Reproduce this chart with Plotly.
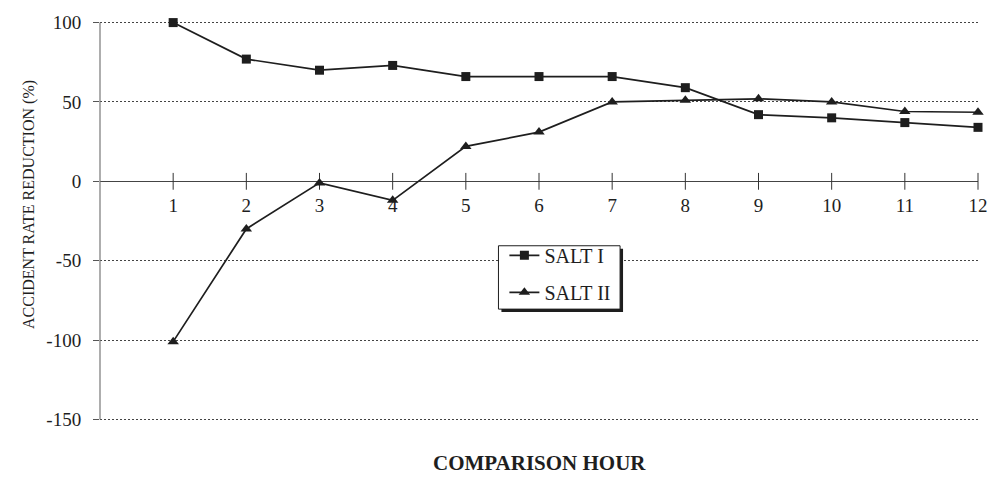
import plotly.graph_objects as go

# Comparison hours and accident-rate reduction (%) for the two salting programmes
hours = list(range(1, 13))
salt_i = [100, 77, 70, 73, 66, 66, 66, 59, 42, 40, 37, 34]
salt_ii = [-101, -30, -1, -12, 22, 31, 50, 51, 52, 50, 44, 43.5]
y_ticks = [-150, -100, -50, 0, 50, 100]
series_names = ["SALT I", "SALT II"]

W, H = 1000, 478
M_L, M_R, M_T, M_B = 100, 12, 17, 57
PW, PH = W - M_L - M_R, H - M_T - M_B
# a little headroom so the outer gridlines are not trimmed at the frame
Y_MIN, Y_MAX = -151, 101

SERIF = "Liberation Serif"
INK = "#1e1e1e"

# legend frame (pixels)
BOX_L, BOX_T, BOX_R, BOX_B = 503, 244, 626, 308
SHADOW = 3


def px_to_paper_x(px):
    return (px - M_L) / PW


def px_to_paper_y(py):
    return (H - M_B - py) / PH


fig = go.Figure()

# small tick crosses along the zero line at every hour
fig.add_trace(go.Scatter(
    x=hours, y=[0] * len(hours), mode="markers",
    marker=dict(symbol="line-ns", size=12, line=dict(width=1, color="#333")),
    showlegend=False, hoverinfo="skip", cliponaxis=False,
))

fig.add_trace(go.Scatter(
    x=hours, y=salt_i, name=series_names[0], mode="lines+markers",
    line=dict(color=INK, width=1.7),
    marker=dict(symbol="square", size=9, color=INK),
    legendgroup="a", cliponaxis=False,
))
fig.add_trace(go.Scatter(
    x=hours, y=salt_ii, name=series_names[1], mode="lines+markers",
    line=dict(color=INK, width=1.7),
    marker=dict(symbol="triangle-up", size=10, color=INK),
    legendgroup="b", cliponaxis=False,
))

zero_frac = (0 - Y_MIN) / (Y_MAX - Y_MIN)
y_lo_frac = (y_ticks[0] - Y_MIN) / (Y_MAX - Y_MIN)

fig.update_layout(
    width=W, height=H,
    margin=dict(l=M_L, r=M_R, t=M_T, b=M_B),
    paper_bgcolor="white", plot_bgcolor="white",
    font=dict(family=SERIF, color=INK, size=19),
    xaxis=dict(
        range=[0, 12], tickvals=hours, ticktext=[str(h) for h in hours],
        anchor="free", position=zero_frac,
        showline=False, showgrid=False, zeroline=False,
        ticks="", ticklabelstandoff=11,
        tickfont=dict(family=SERIF, size=19, color=INK),
    ),
    yaxis=dict(
        range=[Y_MIN, Y_MAX], tickvals=y_ticks, ticktext=[str(v) for v in y_ticks],
        showline=False,
        ticks="outside", ticklen=6, tickcolor="#555", tickwidth=1,
        showgrid=True, gridcolor="#444", gridwidth=1, griddash="2px,2px",
        zeroline=True, zerolinecolor="#444", zerolinewidth=1.4,
        ticklabelstandoff=8,
        tickfont=dict(family=SERIF, size=19, color=INK),
    ),
    legend=dict(
        x=px_to_paper_x(509), y=px_to_paper_y(234),
        xanchor="left", yanchor="top",
        bgcolor="rgba(0,0,0,0)", borderwidth=0,
        font=dict(family=SERIF, size=20, color=INK),
        traceorder="grouped", tracegroupgap=8,
        itemwidth=30,
    ),
    showlegend=True,
    annotations=[
        dict(
            text="ACCIDENT RATE REDUCTION (%)", textangle=-90,
            xref="paper", yref="paper",
            x=px_to_paper_x(28), y=px_to_paper_y(202),
            xanchor="center", yanchor="middle", showarrow=False,
            font=dict(family=SERIF, size=16, color=INK),
        ),
        dict(
            text="<b>COMPARISON HOUR</b>",
            xref="paper", yref="paper",
            x=0.5, y=px_to_paper_y(463),
            xanchor="center", yanchor="middle", showarrow=False,
            font=dict(family=SERIF, size=21, color=INK),
        ),
    ],
    shapes=[
        # vertical axis line, from the lowest to the highest tick
        dict(
            type="line", xref="paper", yref="y", layer="above",
            x0=0, x1=0, y0=y_ticks[0], y1=y_ticks[-1],
            line=dict(width=1.2, color="#777"),
        ),
        # drop shadow, then the white legend frame on top of it
        dict(
            type="rect", xref="paper", yref="paper", layer="above",
            x0=px_to_paper_x(BOX_L + SHADOW), x1=px_to_paper_x(BOX_R + SHADOW),
            y0=px_to_paper_y(BOX_B + SHADOW), y1=px_to_paper_y(BOX_T + SHADOW),
            fillcolor=INK, line=dict(width=0),
        ),
        dict(
            type="rect", xref="paper", yref="paper", layer="above",
            x0=px_to_paper_x(BOX_L), x1=px_to_paper_x(BOX_R),
            y0=px_to_paper_y(BOX_B), y1=px_to_paper_y(BOX_T),
            fillcolor="white", line=dict(width=1, color=INK),
        ),
    ],
)

fig.write_html("out.html")
